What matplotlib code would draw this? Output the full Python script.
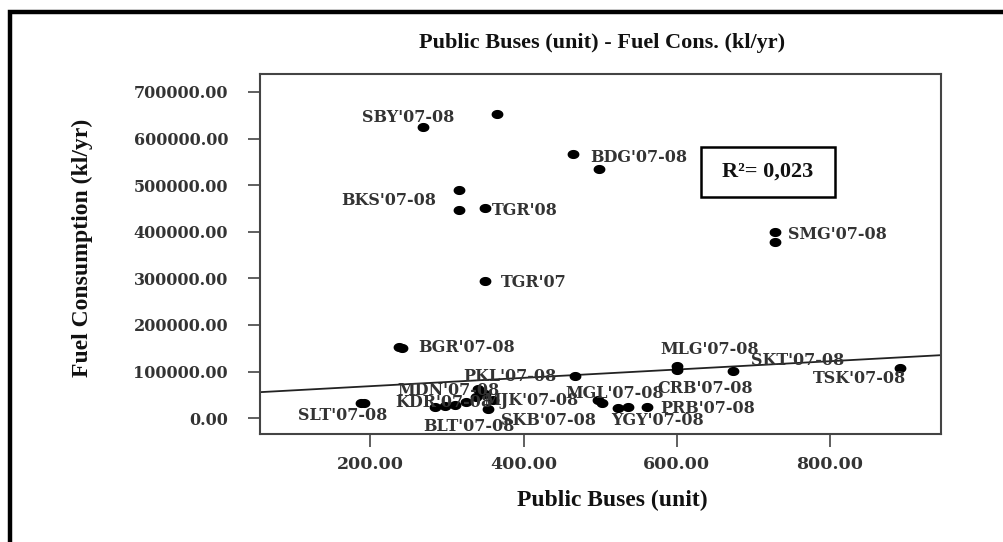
import matplotlib
matplotlib.use("Agg")
import matplotlib.pyplot as plt
import numpy as np
from matplotlib.path import Path
from matplotlib.lines import Line2D
from matplotlib.patches import Rectangle

# ---------------- data ----------------
public_buses = [269, 366, 465, 498, 316, 316, 350, 350, 728, 728,
                237, 241, 601, 601, 674, 891, 188, 192,
                285, 298, 311, 325, 338, 350, 353, 340, 360,
                467, 497, 503, 523, 536, 561]
fuel_consumption = [624000, 652000, 566000, 534000, 489000, 446000, 450000, 294000, 399000, 378000,
                    152000, 151000, 113000, 103000, 101000, 108000, 32000, 32000,
                    23000, 26000, 28000, 35000, 45000, 52000, 19000, 62000, 40000,
                    90000, 38000, 32000, 21500, 23500, 23500]

label_texts = ["SBY'07-08", "BDG'07-08", "BKS'07-08", "TGR'08", "TGR'07", "SMG'07-08",
               "BGR'07-08", "MLG'07-08", "SKT'07-08", "TSK'07-08", "PKL'07-08", "MDN'07-08",
               "KDR'07-08", "SLT'07-08", "BLT'07-08", "SKB'07-08", "YGY'07-08", "MJK'07-08",
               "MGL'07-08", "CRB'07-08", "PRB'07-08"]

fit_intercept = 50800.0
fit_slope = 89.3
r_squared_text = "R\u00b2= 0,023"

x_ticks = [200, 400, 600, 800]
y_ticks = [0, 100000, 200000, 300000, 400000, 500000, 600000, 700000]

title_text = "Public Buses (unit) - Fuel Cons. (kl/yr)"
x_label = "Public Buses (unit)"
y_label = "Fuel Consumption (kl/yr)"

# ---------------- layout (label anchor positions, left-center) ----------------
label_positions = [(189, 646000), (487, 560000), (162, 468000), (359, 446000), (370, 292000),
                   (745, 395000), (263, 152000), (579, 148000), (697, 124500), (778, 86000),
                   (321, 90000), (235, 60000), (233, 34000), (106, 6400), (269, -17000),
                   (370, -4300), (514, -4300), (348, 38600), (455, 53600), (575, 64000),
                   (579, 21500)]

W, H = 1004, 542
fig = plt.figure(figsize=(W / 100, H / 100), dpi=100)
fig.patch.set_facecolor("white")

ax = fig.add_axes([260 / W, 1 - 434 / H, (941 - 260) / W, (434 - 74) / H])
ax.set_xlim(56, 945)
ax.set_ylim(-34000, 738600)

# ellipse marker
t = np.linspace(0, 2 * np.pi, 40)
ell = Path(np.column_stack([1.35 * np.cos(t), np.sin(t)]), closed=True)

ax.plot(public_buses, fuel_consumption, linestyle="none", marker=ell,
        markersize=7.5, color="black", zorder=3)

xs = np.array(ax.get_xlim())
ax.plot(xs, fit_intercept + fit_slope * xs, color="#222222", lw=1.3, zorder=2)

lab_font = dict(family="DejaVu Serif", weight="bold", size=11.5, color="#333333")
for txt, (lx, ly) in zip(label_texts, label_positions):
    ax.text(lx, ly, txt, ha="left", va="center", zorder=4, **lab_font)

ax.set_xticks(x_ticks)
ax.set_yticks(y_ticks)
ax.set_xticklabels([f"{v:.2f}" for v in x_ticks], fontfamily="DejaVu Serif",
                   fontweight="bold", fontsize=12.5, color="#333333")
ax.set_yticklabels([f"{v:.2f}" for v in y_ticks], fontfamily="DejaVu Serif",
                   fontweight="bold", fontsize=11.5, color="#333333")
ax.tick_params(axis="both", direction="out", length=9, width=1.2, color="#444444")
ax.tick_params(axis="y", pad=14)
ax.tick_params(axis="x", pad=7)
for lbl in ax.get_xticklabels():
    lbl.set_x(lbl.get_position()[0])
for sp in ax.spines.values():
    sp.set_linewidth(1.5)
    sp.set_color("#444444")

# title and axis labels
serif_b = dict(family="Liberation Serif", weight="bold", color="#111111")
fig.text(602 / W, 1 - 43 / H, title_text, ha="center", va="center", fontsize=16, **serif_b)
fig.text(612 / W, 1 - 500 / H, x_label, ha="center", va="center", fontsize=17, **serif_b)
fig.text(82 / W, 1 - 248 / H, y_label, ha="center", va="center", rotation=90, fontsize=17, **serif_b)

# R^2 box
x0 = (701 - 260) / (941 - 260)
x1 = (835 - 260) / (941 - 260)
y0 = (434 - 197) / (434 - 74)
y1 = (434 - 147) / (434 - 74)
ax.add_patch(Rectangle((x0, y0), x1 - x0, y1 - y0, transform=ax.transAxes,
                       facecolor="white", edgecolor="black", lw=1.8, zorder=5))
ax.text((x0 + x1) / 2, (y0 + y1) / 2, r_squared_text, transform=ax.transAxes,
        ha="center", va="center", fontsize=16, zorder=6, **serif_b)

# outer frame (left and top edges visible)
fig.add_artist(Line2D([9.5 / W, 9.5 / W, 1.0], [0.0, 1 - 11.5 / H, 1 - 11.5 / H],
                      transform=fig.transFigure, color="black", lw=3.2,
                      solid_joinstyle="miter"))

fig.savefig("out.png", dpi=100)
